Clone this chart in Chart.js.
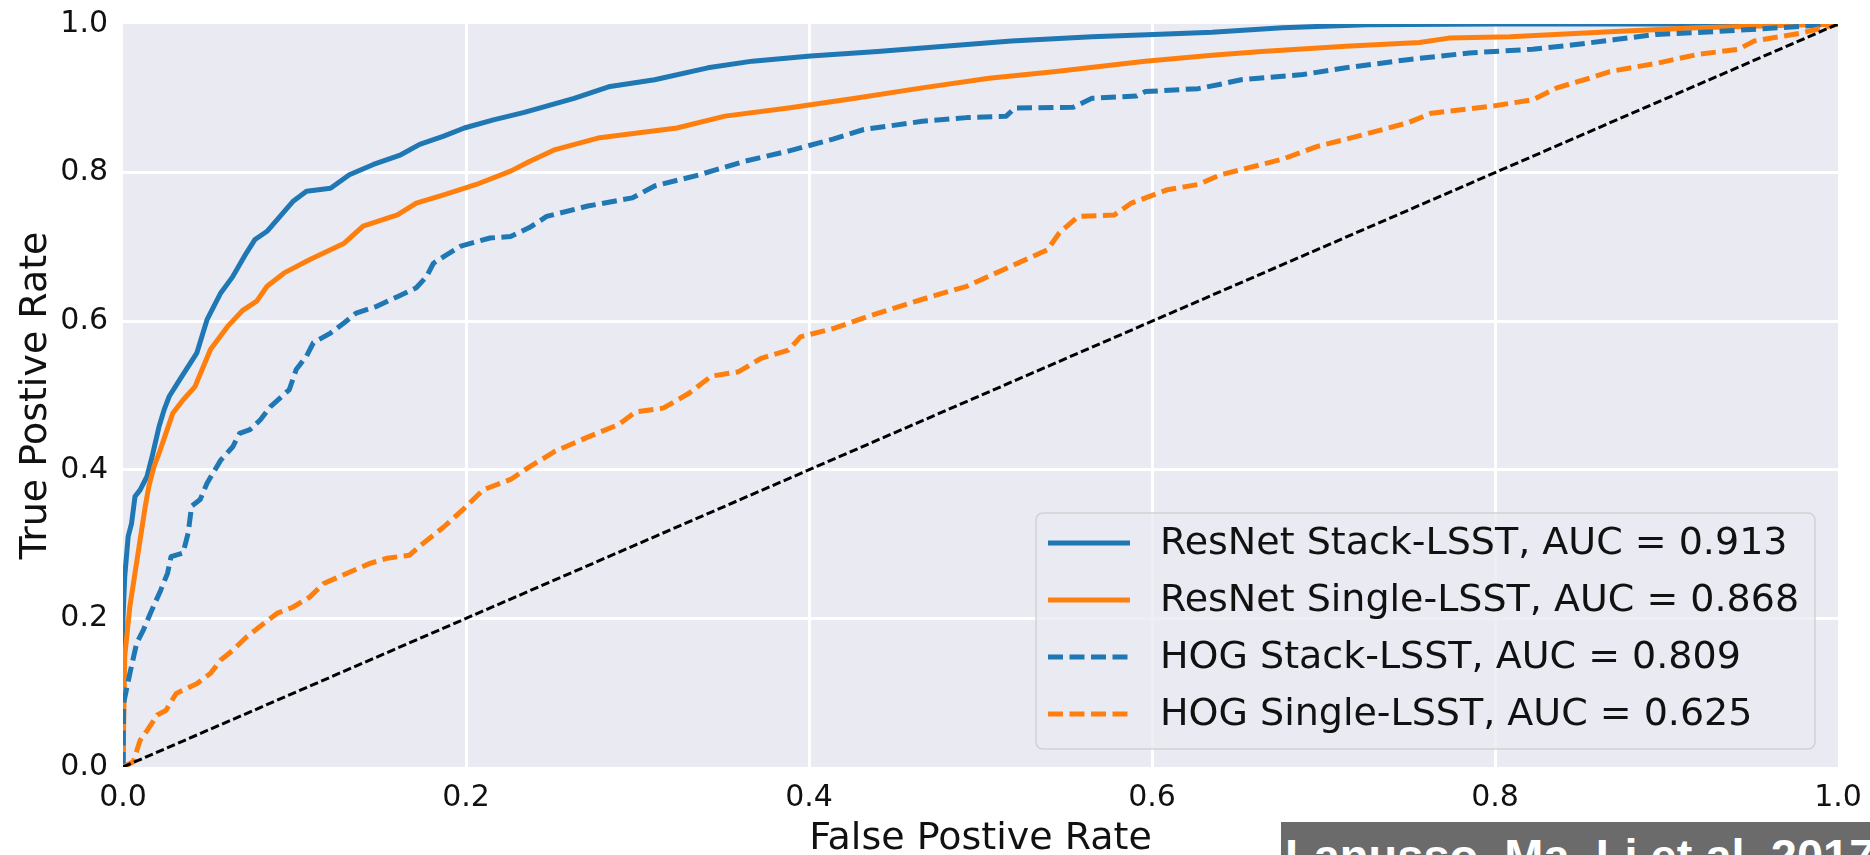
<!DOCTYPE html>
<html lang="en">
<head>
  <meta charset="UTF-8">
  <title>ROC curves</title>
  <script src="https://cdn.jsdelivr.net/npm/chart.js"></script>
  <style>
    html, body {
      margin: 0;
      padding: 0;
      width: 1870px;
      height: 855px;
      overflow: hidden;
      background: #ffffff;
    }
    #roc {
      position: absolute;
      left: 0;
      top: 0;
    }
    #credit {
      position: absolute;
      left: 1281px;
      top: 822px;
      width: 620px;
      height: 33px;
      box-sizing: border-box;
      padding: 10px 0 0 4px;
      background: #6b6b6b;
      color: #ffffff;
      font: bold 47px "Liberation Sans", Arial, sans-serif;
      line-height: 47px;
      white-space: nowrap;
      overflow: hidden;
    }
  </style>
</head>
<body>
  <canvas id="roc" width="1870" height="855"></canvas>
  <div id="credit">Lanusso, Ma, Li et al. 2017</div>

  <script>
    // values
    const seriesLabels = [
      'ResNet Stack-LSST, AUC = 0.913',
      'ResNet Single-LSST, AUC = 0.868',
      'HOG Stack-LSST, AUC = 0.809',
      'HOG Single-LSST, AUC = 0.625'
    ];
    const tickValues = [0, 0.2, 0.4, 0.6, 0.8, 1.0];

    const fprResNetStack = [0, 0, 0.001, 0.003, 0.005, 0.007, 0.010, 0.014, 0.017, 0.021, 0.024, 0.027, 0.033, 0.043, 0.049, 0.057, 0.064, 0.072, 0.077, 0.084, 0.099, 0.107, 0.121, 0.132, 0.146, 0.162, 0.173, 0.187, 0.199, 0.216, 0.234, 0.263, 0.284, 0.310, 0.341, 0.367, 0.401, 0.440, 0.479, 0.518, 0.565, 0.601, 0.635, 0.676, 0.725, 0.800, 1.0];
    const tprResNetStack = [0, 0.200, 0.256, 0.310, 0.328, 0.364, 0.373, 0.391, 0.418, 0.458, 0.481, 0.499, 0.521, 0.557, 0.602, 0.638, 0.660, 0.692, 0.710, 0.721, 0.761, 0.775, 0.779, 0.797, 0.811, 0.824, 0.838, 0.849, 0.860, 0.871, 0.881, 0.900, 0.916, 0.925, 0.941, 0.950, 0.957, 0.963, 0.970, 0.977, 0.983, 0.986, 0.989, 0.995, 0.999, 1.0, 1.0];

    const fprResNetSingle = [0, 0.001, 0.002, 0.004, 0.007, 0.010, 0.013, 0.015, 0.018, 0.021, 0.025, 0.029, 0.035, 0.042, 0.051, 0.061, 0.070, 0.078, 0.084, 0.094, 0.109, 0.129, 0.140, 0.160, 0.171, 0.187, 0.206, 0.226, 0.237, 0.252, 0.278, 0.323, 0.351, 0.388, 0.427, 0.466, 0.505, 0.544, 0.596, 0.635, 0.664, 0.713, 0.756, 0.773, 0.809, 0.870, 0.918, 0.966, 1.0];
    const tprResNetSingle = [0, 0.149, 0.171, 0.216, 0.261, 0.306, 0.351, 0.377, 0.404, 0.422, 0.449, 0.476, 0.494, 0.512, 0.562, 0.593, 0.615, 0.627, 0.647, 0.665, 0.683, 0.705, 0.728, 0.743, 0.759, 0.770, 0.784, 0.802, 0.815, 0.831, 0.847, 0.860, 0.876, 0.887, 0.900, 0.914, 0.927, 0.936, 0.950, 0.958, 0.963, 0.970, 0.975, 0.981, 0.983, 0.990, 0.995, 0.998, 1.0];

    const fprHogStack = [0, 0.0004, 0.004, 0.008, 0.012, 0.016, 0.022, 0.026, 0.028, 0.035, 0.038, 0.040, 0.045, 0.049, 0.057, 0.064, 0.068, 0.074, 0.080, 0.086, 0.097, 0.101, 0.107, 0.111, 0.121, 0.129, 0.136, 0.148, 0.160, 0.171, 0.177, 0.181, 0.187, 0.197, 0.214, 0.226, 0.237, 0.247, 0.271, 0.297, 0.310, 0.336, 0.362, 0.388, 0.414, 0.432, 0.466, 0.492, 0.515, 0.520, 0.554, 0.565, 0.591, 0.596, 0.627, 0.640, 0.652, 0.688, 0.713, 0.749, 0.785, 0.822, 0.846, 0.870, 0.894, 0.930, 0.966, 1.0];
    const tprHogStack = [0, 0.086, 0.126, 0.167, 0.185, 0.207, 0.238, 0.261, 0.283, 0.288, 0.315, 0.351, 0.360, 0.382, 0.413, 0.431, 0.449, 0.454, 0.467, 0.485, 0.508, 0.535, 0.553, 0.571, 0.584, 0.598, 0.611, 0.620, 0.633, 0.645, 0.660, 0.678, 0.687, 0.701, 0.712, 0.714, 0.726, 0.741, 0.755, 0.766, 0.782, 0.797, 0.815, 0.829, 0.845, 0.858, 0.869, 0.874, 0.876, 0.887, 0.888, 0.900, 0.903, 0.909, 0.913, 0.919, 0.925, 0.932, 0.941, 0.952, 0.961, 0.966, 0.972, 0.979, 0.986, 0.990, 0.995, 1.0];

    const fprHogSingle = [0, 0.006, 0.010, 0.014, 0.020, 0.025, 0.031, 0.043, 0.051, 0.057, 0.064, 0.072, 0.082, 0.090, 0.099, 0.109, 0.117, 0.128, 0.144, 0.154, 0.167, 0.175, 0.187, 0.198, 0.210, 0.226, 0.237, 0.252, 0.271, 0.289, 0.299, 0.315, 0.330, 0.343, 0.359, 0.372, 0.388, 0.395, 0.414, 0.434, 0.453, 0.471, 0.492, 0.513, 0.539, 0.546, 0.557, 0.578, 0.588, 0.609, 0.627, 0.640, 0.652, 0.676, 0.696, 0.720, 0.749, 0.763, 0.797, 0.822, 0.836, 0.855, 0.867, 0.894, 0.918, 0.942, 0.951, 0.979, 1.0];
    const tprHogSingle = [0, 0.007, 0.036, 0.049, 0.070, 0.076, 0.099, 0.112, 0.126, 0.144, 0.157, 0.175, 0.193, 0.207, 0.215, 0.229, 0.247, 0.258, 0.274, 0.281, 0.285, 0.301, 0.323, 0.346, 0.373, 0.387, 0.404, 0.425, 0.444, 0.461, 0.478, 0.483, 0.503, 0.526, 0.532, 0.550, 0.561, 0.579, 0.590, 0.606, 0.620, 0.633, 0.647, 0.669, 0.696, 0.719, 0.741, 0.743, 0.759, 0.777, 0.784, 0.797, 0.804, 0.818, 0.835, 0.849, 0.867, 0.880, 0.889, 0.898, 0.914, 0.927, 0.936, 0.947, 0.959, 0.966, 0.977, 0.988, 1.0];

    const fprChance = [0, 1];
    const tprChance = [0, 1];

    const BLUE = '#1f77b4';
    const ORANGE = '#ff7f0e';
    const TEXT = '#111111';
    const FONT = '"DejaVu Sans", Verdana, sans-serif';

    function toPoints(xs, ys) {
      return xs.map((x, i) => ({ x: x, y: ys[i] }));
    }

    function curve(label, xs, ys, color, dash, order) {
      return {
        label: label,
        data: toPoints(xs, ys),
        borderColor: color,
        backgroundColor: color,
        borderWidth: 5,
        borderDash: dash,
        borderJoinStyle: 'round',
        showLine: true,
        pointRadius: 0,
        clip: 0,
        order: order
      };
    }

    const datasets = [
      curve(seriesLabels[0], fprResNetStack, tprResNetStack, BLUE, [], 5),
      curve(seriesLabels[1], fprResNetSingle, tprResNetSingle, ORANGE, [], 4),
      curve(seriesLabels[2], fprHogStack, tprHogStack, BLUE, [15, 6.5], 3),
      curve(seriesLabels[3], fprHogSingle, tprHogSingle, ORANGE, [15, 6.5], 2),
      {
        label: '',
        data: toPoints(fprChance, tprChance),
        borderColor: '#000000',
        borderWidth: 3,
        borderDash: [8.5, 3.5],
        showLine: true,
        pointRadius: 0,
        clip: 0,
        order: 1,
        noLegend: true
      }
    ];

    // seaborn-like grey panel
    const panelBackground = {
      id: 'panelBackground',
      beforeDraw(chart) {
        const { ctx, chartArea: a } = chart;
        ctx.save();
        ctx.fillStyle = '#eaeaf2';
        ctx.fillRect(a.left, a.top, a.right - a.left, a.bottom - a.top);
        ctx.restore();
      }
    };

    // legend box in the lower right corner of the plot
    const boxLegend = {
      id: 'boxLegend',
      afterDraw(chart) {
        const { ctx, chartArea: a } = chart;
        const w = 779, h = 236, r = 7;
        const right = a.right - 23;
        const bottom = a.bottom - 18;
        const left = right - w;
        const top = bottom - h;

        ctx.save();
        ctx.beginPath();
        ctx.moveTo(left + r, top);
        ctx.arcTo(right, top, right, bottom, r);
        ctx.arcTo(right, bottom, left, bottom, r);
        ctx.arcTo(left, bottom, left, top, r);
        ctx.arcTo(left, top, right, top, r);
        ctx.closePath();
        ctx.fillStyle = 'rgba(234, 234, 242, 0.8)';
        ctx.fill();
        ctx.lineWidth = 1.5;
        ctx.strokeStyle = 'rgba(204, 204, 204, 0.8)';
        ctx.stroke();

        let row = 0;
        chart.data.datasets.forEach(ds => {
          if (ds.noLegend) return;
          const y = top + 30 + row * 57;
          ctx.beginPath();
          ctx.setLineDash(ds.borderDash || []);
          ctx.lineWidth = ds.borderWidth;
          ctx.strokeStyle = ds.borderColor;
          ctx.moveTo(left + 12, y);
          ctx.lineTo(left + 94, y);
          ctx.stroke();
          ctx.setLineDash([]);
          ctx.fillStyle = TEXT;
          ctx.font = '38px ' + FONT;
          ctx.textAlign = 'left';
          ctx.textBaseline = 'middle';
          ctx.fillText(ds.label, left + 124, y + 1);
          row++;
        });
        ctx.restore();
      }
    };

    function gridColor(c) {
      if (c.tick && (c.tick.value === 0 || c.tick.value === 1)) return 'rgba(0,0,0,0)';
      return '#ffffff';
    }

    function setTicks(scale) {
      scale.ticks = tickValues.map(v => ({ value: v }));
    }

    // fixed axis sizes so the plot area lands where the original has it
    function fitScale(size, prop) {
      return s => {
        s[prop] = size;
        s.paddingTop = 0;
        s.paddingBottom = 0;
        s.paddingLeft = 0;
        s.paddingRight = 0;
      };
    }

    const ctx = document.getElementById('roc').getContext('2d');
    const rocChart = new Chart(ctx, {
      type: 'scatter',
      data: { datasets: datasets },
      options: {
        responsive: false,
        animation: false,
        devicePixelRatio: 1,
        layout: { padding: { top: 24, right: 32, left: 0, bottom: 0 } },
        plugins: {
          legend: { display: false },
          tooltip: { enabled: false }
        },
        scales: {
          x: {
            type: 'linear',
            min: 0,
            max: 1,
            afterBuildTicks: setTicks,
            afterFit: fitScale(88, 'height'),
            border: { display: false },
            grid: { color: gridColor, lineWidth: 3, drawTicks: false },
            ticks: {
              padding: 13,
              color: TEXT,
              font: { family: FONT, size: 30 },
              callback: v => v.toFixed(1),
              maxRotation: 0
            },
            title: {
              display: true,
              text: 'False Postive Rate',
              color: TEXT,
              font: { family: FONT, size: 38, lineHeight: 0.85 },
              padding: { top: 0, bottom: 0 }
            }
          },
          y: {
            type: 'linear',
            min: 0,
            max: 1,
            afterBuildTicks: setTicks,
            afterFit: fitScale(123, 'width'),
            border: { display: false },
            grid: { color: gridColor, lineWidth: 3, drawTicks: false },
            ticks: {
              padding: 15,
              color: TEXT,
              font: { family: FONT, size: 30 },
              callback: v => v.toFixed(1)
            },
            title: {
              display: true,
              text: 'True Postive Rate',
              color: TEXT,
              font: { family: FONT, size: 38, lineHeight: 0.85 },
              padding: { top: 20, bottom: 0 }
            }
          }
        }
      },
      plugins: [panelBackground, boxLegend]
    });
  </script>
</body>
</html>
